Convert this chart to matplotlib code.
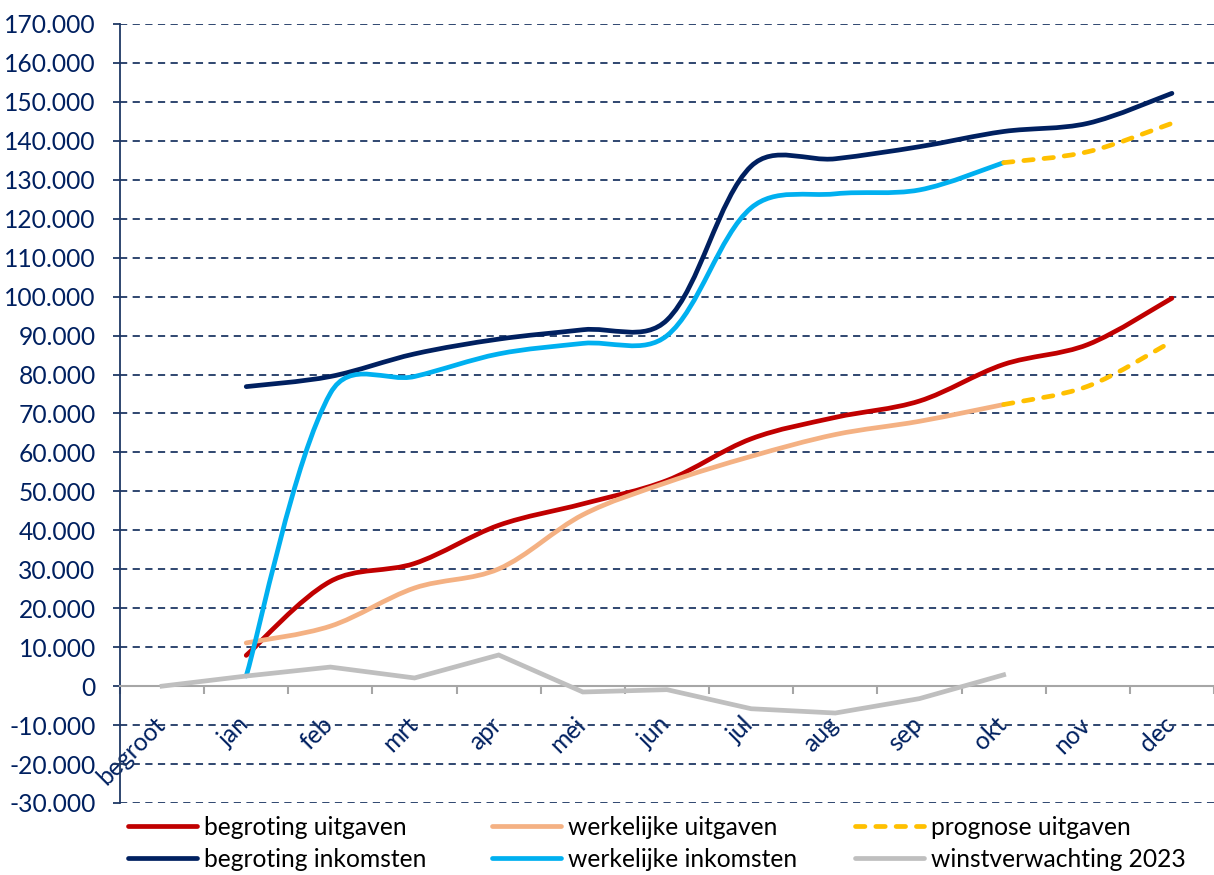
import matplotlib
matplotlib.use("Agg")
import matplotlib.pyplot as plt
from matplotlib.path import Path
from matplotlib.patches import PathPatch
from matplotlib.lines import Line2D
from matplotlib.ticker import FuncFormatter, MultipleLocator, FixedLocator
import matplotlib.transforms as mtransforms
import numpy as np

# ---------------- data ----------------
categories = ['begroot', 'jan', 'feb', 'mrt', 'apr', 'mei', 'jun',
              'jul', 'aug', 'sep', 'okt', 'nov', 'dec']

begroting_uitgaven = [7900, 26900, 31500, 41300, 46800, 52800, 63500,
                      69000, 73200, 82600, 87700, 99600]            # jan..dec
werkelijke_uitgaven = [11100, 15400, 25200, 30100, 44000, 52300, 59000,
                       64600, 68000, 72300]                          # jan..okt
prognose_uitgaven = [72300, 77000, 88500]                            # okt..dec
begroting_inkomsten = [76900, 79500, 85300, 89100, 91500, 94000, 133500,
                       135400, 138500, 142400, 144500, 152200]       # jan..dec
werkelijke_inkomsten = [2600, 75200, 79500, 85300, 88000, 90000, 122800,
                        126400, 127400, 134400]                      # jan..okt
prognose_inkomsten = [134400, 137200, 144500]                        # okt..dec
winstverwachting = [0, 2600, 4900, 2100, 8000, -1500, -900, -5800,
                    -6900, -3200, 2900]                              # begroot..okt

# ---------------- styling ----------------
FONT = ['Lato', 'DejaVu Sans']
plt.rcParams['font.family'] = FONT
NAVY_TXT = '#002060'
GRID = '#1F3864'
C_BU = '#C00000'
C_WU = '#F4B183'
C_PU = '#FFC000'
C_BI = '#002060'
C_WI = '#00B0F0'
C_WV = '#BFBFBF'
LW = 3.4
FS = 17.7

W, H = 1214, 875
fig = plt.figure(figsize=(W / 100, H / 100), dpi=100)
ax = fig.add_axes([120 / W, 1 - 803 / H, 1094 / W, 779 / H])

ax.set_xlim(-0.5, len(categories) - 0.5)
ax.set_ylim(-30000, 170000)

# grid
ax.yaxis.set_major_locator(MultipleLocator(10000))
ax.grid(axis='y', color=GRID, linestyle=(0, (4, 3)), linewidth=1.3, zorder=0)
ax.set_axisbelow(True)

# spines
for s in ['top', 'right']:
    ax.spines[s].set_visible(False)
ax.spines['left'].set_color(GRID)
ax.spines['left'].set_linewidth(1.3)
ax.spines['bottom'].set_position(('data', 0))
ax.spines['bottom'].set_color('#A6A6A6')
ax.spines['bottom'].set_linewidth(1.5)

# y ticks
ax.yaxis.set_major_formatter(FuncFormatter(lambda v, p: f"{v:,.0f}".replace(",", ".")))
ax.tick_params(axis='y', direction='out', length=5, width=1.3, color=GRID,
               labelsize=FS, labelcolor=NAVY_TXT, pad=12.5)

# x ticks: labels at centers, tick marks at boundaries
ax.xaxis.set_major_locator(FixedLocator(range(len(categories))))
ax.set_xticklabels(categories)
ax.xaxis.set_minor_locator(FixedLocator([i - 0.5 for i in range(len(categories) + 1)]))
ax.tick_params(axis='x', which='major', length=0, pad=19, labelsize=FS,
               labelcolor=NAVY_TXT)
ax.tick_params(axis='x', which='minor', direction='out', length=6, width=1.5,
               color='#A6A6A6')
offset = mtransforms.ScaledTranslation(7 / 100, 0, fig.dpi_scale_trans)
for lab in ax.get_xticklabels():
    lab.set_rotation(45)
    lab.set_ha('right')
    lab.set_va('top')
    lab.set_transform(lab.get_transform() + offset)


def smooth_path(xs, ys):
    """Bezier smoothing computed in screen space (Excel-like smoothed line)."""
    data = np.column_stack([xs, ys]).astype(float)
    P = ax.transData.transform(data)
    n = len(P)
    d = [np.hypot(*(P[i + 1] - P[i])) ** 0.5 for i in range(n - 1)]
    out_c, in_c = [], []
    for i in range(n):
        prev = P[i - 1] if i > 0 else P[i]
        nxt = P[i + 1] if i < n - 1 else P[i]
        T = nxt - prev
        din = d[i - 1] if i > 0 else 0.0
        dout = d[i] if i < n - 1 else 0.0
        tot = din + dout if din + dout > 0 else 1.0
        if i == 0 or i == n - 1:
            fo = fi = 1 / 6
        else:
            fo = dout / tot / 3
            fi = din / tot / 3
        out_c.append(P[i] + T * fo)
        in_c.append(P[i] - T * fi)
    verts = [P[0]]
    codes = [Path.MOVETO]
    for i in range(n - 1):
        verts += [out_c[i], in_c[i + 1], P[i + 1]]
        codes += [Path.CURVE4] * 3
    verts = ax.transData.inverted().transform(np.array(verts))
    return Path(verts, codes)


def add_smooth(start, values, color, dashed=False, z=3):
    xs = list(range(start, start + len(values)))
    patch = PathPatch(smooth_path(xs, values), fill=False, edgecolor=color,
                      linewidth=LW, zorder=z, capstyle='round', joinstyle='round',
                      transform=ax.transData)
    if dashed:
        patch.set_linestyle((0, (2.0, 2.3)))
    ax.add_patch(patch)


idx = {c: i for i, c in enumerate(categories)}
add_smooth(idx['jan'], begroting_uitgaven, C_BU, z=3)
add_smooth(idx['jan'], werkelijke_uitgaven, C_WU, z=3.1)
add_smooth(idx['okt'], prognose_uitgaven, C_PU, dashed=True, z=3.2)
add_smooth(idx['jan'], begroting_inkomsten, C_BI, z=3.3)
add_smooth(idx['jan'], werkelijke_inkomsten, C_WI, z=3.4)
add_smooth(idx['okt'], prognose_inkomsten, C_PU, dashed=True, z=3.5)
ax.plot(range(len(winstverwachting)), winstverwachting, color=C_WV,
        linewidth=LW, zorder=3.6, solid_joinstyle='miter')

# ---------------- legend (3 columns) ----------------
def h(color, dashed=False):
    ln = Line2D([], [], color=color, linewidth=LW, solid_capstyle='round',
                dash_capstyle='round')
    if dashed:
        ln.set_linestyle((0, (2.0, 2.3)))
    return ln

cols = [
    (128, [(h(C_BU), 'begroting uitgaven'), (h(C_BI), 'begroting inkomsten')]),
    (492, [(h(C_WU), 'werkelijke uitgaven'), (h(C_WI), 'werkelijke inkomsten')]),
    (855, [(h(C_PU, True), 'prognose uitgaven'), (h(C_WV), 'winstverwachting 2023')]),
]
for xpx, items in cols:
    leg = fig.legend([i[0] for i in items], [i[1] for i in items],
                     loc='upper left', bbox_to_anchor=(xpx / W, 1 - 816 / H),
                     frameon=False, fontsize=FS, borderpad=0, borderaxespad=0,
                     handlelength=2.8, handletextpad=0.3, labelspacing=0.37)
    for t in leg.get_texts():
        t.set_color('black')

fig.savefig('out.png', dpi=100)
